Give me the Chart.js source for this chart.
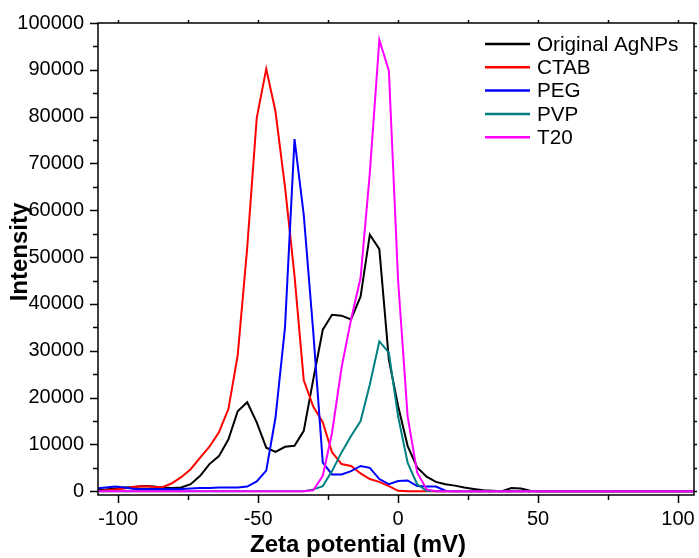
<!DOCTYPE html>
<html>
<head>
<meta charset="utf-8">
<script src="https://cdn.jsdelivr.net/npm/chart.js@4"></script>
<style>
  html, body { margin: 0; padding: 0; background: #fff; }
  #wrap { width: 699px; height: 558px; }
</style>
</head>
<body>
<div id="wrap"><canvas id="zeta"></canvas></div>
<script>
// zeta potential bins (mV)
var zeta = [-107.8, -104.4, -101.1, -97.7, -94.3, -91.0, -87.6, -84.2, -80.8, -77.5,
  -74.1, -70.7, -67.4, -64.0, -60.6, -57.3, -53.9, -50.5, -47.1, -43.8,
  -40.4, -37.0, -33.7, -30.3, -26.9, -23.6, -20.2, -16.8, -13.4, -10.1,
  -6.7, -3.3, 0.0, 3.4, 6.8, 10.2, 13.5, 16.9, 20.3, 23.6,
  27.0, 30.4, 33.7, 37.1, 40.5, 43.9, 47.2, 50.6, 54.0, 57.3,
  60.7, 64.1, 67.4, 70.8, 74.2, 77.6, 80.9, 84.3, 87.7, 91.0,
  94.4, 97.8, 101.1, 104.5, 107.9];

// intensity per sample
var original = [300, 400, 600, 800, 900, 1100, 1000, 800, 700, 800,
  1500, 3300, 5800, 7500, 11100, 17100, 19000, 14700, 9300, 8400,
  9500, 9700, 12900, 23900, 34500, 37700, 37500, 36700, 41600, 54800,
  51700, 28100, 18200, 9700, 5100, 3100, 2000, 1500, 1200, 800,
  500, 200, 100, 0, 700, 600, 100, 0, 0, 0,
  0, 0, 0, 0, 0, 0, 0, 0, 0, 0,
  0, 0, 0, 0, 0];
var ctab = [0, 200, 400, 600, 950, 1050, 950, 850, 1700, 3000,
  4700, 7200, 9500, 12600, 17600, 29000, 52000, 79700, 90200, 81100,
  65000, 46000, 23700, 18100, 14700, 8300, 5800, 5400, 3800, 2600,
  2000, 1100, 100, 0, 0, 0, 0, 0, 0, 0,
  0, 0, 0, 0, 0, 0, 0, 0, 0, 0,
  0, 0, 0, 0, 0, 0, 0, 0, 0, 0,
  0, 0, 0, 0, 0];
var peg = [600, 800, 1000, 800, 500, 500, 500, 500, 500, 500,
  600, 700, 700, 800, 800, 800, 1000, 2100, 4400, 15700,
  35000, 75200, 59000, 34000, 6100, 3600, 3600, 4300, 5400, 5000,
  2600, 1500, 2200, 2300, 1100, 1000, 1000, 100, 0, 0,
  0, 0, 0, 0, 0, 0, 0, 0, 0, 0,
  0, 0, 0, 0, 0, 0, 0, 0, 0, 0,
  0, 0, 0, 0, 0];
var pvp = [0, 0, 0, 0, 0, 0, 0, 0, 0, 0,
  0, 0, 0, 0, 0, 0, 0, 0, 0, 0,
  0, 0, 0, 400, 1100, 4300, 8300, 11800, 15000, 22800,
  32000, 29600, 16000, 6100, 1500, 100, 0, 0, 0, 0,
  0, 0, 0, 0, 0, 0, 0, 0, 0, 0,
  0, 0, 0, 0, 0, 0, 0, 0, 0, 0,
  0, 0, 0, 0, 0];
var t20 = [0, 0, 0, 0, 0, 0, 0, 0, 0, 0,
  0, 0, 0, 0, 0, 0, 0, 0, 0, 0,
  0, 0, 0, 200, 3300, 12500, 26400, 36700, 45600, 68000,
  96400, 89800, 45000, 16000, 4000, 400, 0, 0, 0, 0,
  0, 0, 0, 0, 0, 0, 0, 0, 0, 0,
  0, 0, 0, 0, 0, 0, 0, 0, 0, 0,
  0, 0, 0, 0, 0];

var seriesNames = ["Original AgNPs", "CTAB", "PEG", "PVP", "T20"];
var seriesColors = ["#000000", "#ff0000", "#0000ff", "#008080", "#ff00ff"];

var xTicks = [-100, -50, 0, 50, 100];
var xMinor = [-75, -25, 25, 75];
var yTicks = [0, 10000, 20000, 30000, 40000, 50000, 60000, 70000, 80000, 90000, 100000];
var yMinor = [5000, 15000, 25000, 35000, 45000, 55000, 65000, 75000, 85000, 95000];

var FONT = "'Liberation Sans', Arial, sans-serif";

function toPoints(values) {
  return zeta.map(function (x, i) { return { x: x, y: values[i] }; });
}

var allSeries = [original, ctab, peg, pvp, t20];
var datasets = allSeries.map(function (values, i) {
  return {
    label: seriesNames[i],
    data: toPoints(values),
    borderColor: seriesColors[i],
    backgroundColor: seriesColors[i],
    borderWidth: 2,
    pointRadius: 0,
    tension: 0,
    // later series sit on top
    order: allSeries.length - 1 - i,
  };
});

// frame, tick marks, axis titles and the legend block
var framePlugin = {
  id: "frame",
  afterDatasetsDraw: function (chart) {
    var ctx = chart.ctx;
    var a = chart.chartArea;
    var xs = chart.scales.x, ys = chart.scales.y;
    ctx.save();
    ctx.strokeStyle = "#000";
    ctx.lineWidth = 1.5;
    ctx.strokeRect(a.left, a.top, a.right - a.left, a.bottom - a.top);

    ctx.beginPath();
    function xt(v, len) {
      var p = Math.round(xs.getPixelForValue(v)) + 0.5;
      ctx.moveTo(p, a.bottom); ctx.lineTo(p, a.bottom + len);
      ctx.moveTo(p, a.top); ctx.lineTo(p, a.top - 3);
    }
    function yt(v, len) {
      var p = Math.round(ys.getPixelForValue(v)) + 0.5;
      ctx.moveTo(a.left, p); ctx.lineTo(a.left - len, p);
      ctx.moveTo(a.right, p); ctx.lineTo(a.right + 3, p);
    }
    xTicks.forEach(function (v) { xt(v, 8); });
    xMinor.forEach(function (v) { xt(v, 5); });
    yTicks.forEach(function (v) { yt(v, 8); });
    yMinor.forEach(function (v) { yt(v, 5); });
    ctx.stroke();

    // axis titles
    ctx.fillStyle = "#000";
    ctx.font = "bold 24px " + FONT;
    ctx.textAlign = "center";
    ctx.textBaseline = "middle";
    ctx.fillText("Zeta potential (mV)", 358, 545);
    ctx.save();
    ctx.translate(20, 252);
    ctx.rotate(-Math.PI / 2);
    ctx.fillText("Intensity", 0, 0);
    ctx.restore();

    // legend
    ctx.textAlign = "left";
    ctx.font = "20.7px " + FONT;
    seriesNames.forEach(function (name, i) {
      var y = 44 + i * 23.3;
      ctx.strokeStyle = seriesColors[i];
      ctx.lineWidth = 2.5;
      ctx.beginPath();
      ctx.moveTo(485, y); ctx.lineTo(530, y);
      ctx.stroke();
      ctx.fillText(name, 537, y + 1);
    });
    ctx.restore();
  },
};

var ctx = document.getElementById("zeta").getContext("2d");
var chart = new Chart(ctx, {
  type: "line",
  data: { datasets: datasets },
  options: {
    responsive: true,
    maintainAspectRatio: false,
    animation: false,
    layout: { padding: { top: 23, right: 5, left: 0, bottom: 0 } },
    plugins: {
      legend: { display: false },
      tooltip: { enabled: false },
    },
    scales: {
      x: {
        type: "linear",
        min: -107.2,
        max: 105.7,
        afterFit: function (s) {
          s.height = 63;
          s.paddingLeft = 0;
          s.paddingRight = 0;
        },
        afterBuildTicks: function (s) {
          s.ticks = xTicks.map(function (v) { return { value: v }; });
        },
        grid: { display: false, drawTicks: false },
        border: { display: false },
        ticks: {
          color: "#000",
          padding: 12,
          maxRotation: 0,
          font: { family: FONT, size: 20 },
          callback: function (v) { return String(v); },
        },
        title: { display: false },
      },
      y: {
        min: -800,
        max: 100000,
        afterFit: function (s) {
          s.width = 98;
          s.paddingTop = 0;
          s.paddingBottom = 0;
        },
        afterBuildTicks: function (s) {
          s.ticks = yTicks.map(function (v) { return { value: v }; });
        },
        grid: { display: false, drawTicks: false },
        border: { display: false },
        ticks: {
          color: "#000",
          padding: 14,
          font: { family: FONT, size: 20 },
          callback: function (v) { return String(v); },
        },
        title: { display: false },
      },
    },
  },
  plugins: [framePlugin],
});
</script>
</body>
</html>
